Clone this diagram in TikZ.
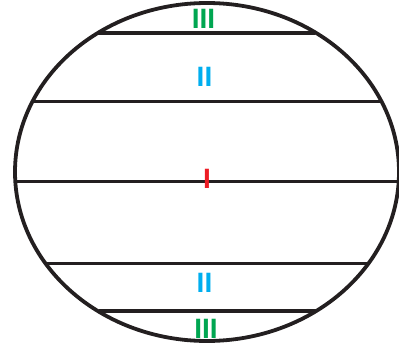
\documentclass[tikz,border=0pt]{standalone}
\usepackage{fontspec}
\setmainfont{Liberation Sans}
\definecolor{ink}{HTML}{231F20}
\definecolor{grn}{HTML}{00A651}
\definecolor{blu}{HTML}{00AEEF}
\definecolor{rd}{HTML}{ED1C24}
\tikzset{
  numlabel/.style={inner sep=0pt, font=\fontsize{28}{28}\selectfont\bfseries},
  chordthick/.style={draw=ink, line width=4pt},
  chordthin/.style={draw=ink, line width=3pt},
}
\begin{document}
\begin{tikzpicture}[x=1pt,y=-1pt]
\useasboundingbox (0,0) rectangle (399,353);
\draw[draw=ink, line width=3.8pt] (207,172) ellipse [x radius=192, y radius=169];
\draw[chordthick] (97,33) -- (315,33);
\draw[chordthin] (34,101) -- (382,101);
\draw[chordthin] (15,181) -- (399,181);
\draw[chordthin] (46,263) -- (369,263);
\draw[chordthick] (99,311) -- (316,311);
\node[numlabel, text=grn] (t3) at (203.5,19) {III};
\node[numlabel, text=blu] (t2) at (204.5,76.5) {II};
\node[numlabel, text=rd] (m1) at (207,179) {I};
\node[numlabel, text=blu] (b2) at (204.5,283) {II};
\node[numlabel, text=grn] (b3) at (206,329) {III};
\end{tikzpicture}
\end{document}
